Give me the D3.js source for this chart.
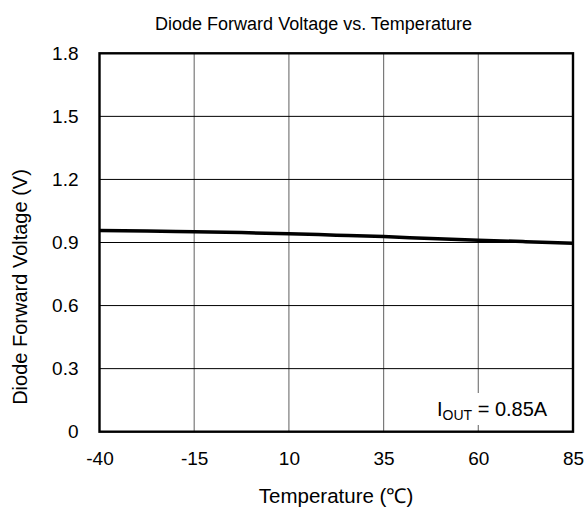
<!DOCTYPE html>
<html>
<head>
<meta charset="utf-8">
<script src="https://cdn.jsdelivr.net/npm/d3@7"></script>
<style>
  body { margin: 0; background: #fff; }
  svg { font-family: Arial, "Liberation Sans", sans-serif; }
</style>
</head>
<body>
<svg id="chart" width="586" height="509"></svg>
<script>
// data
const temps = [-40, -27.5, -15, -2.5, 10, 22.5, 35, 47.5, 60, 72.5, 85]
const vf = [0.957, 0.955, 0.951, 0.947, 0.942, 0.935, 0.928, 0.919, 0.911, 0.904, 0.897]
const xTicks = [-40, -15, 10, 35, 60, 85]
const yTicks = [0, 0.3, 0.6, 0.9, 1.2, 1.5, 1.8]

const svg = d3.select('#chart')

const plotLeft = 99.5, plotRight = 573, plotTop = 53.3, plotBottom = 431.7

const x = d3.scaleLinear().domain([-40, 85]).range([plotLeft, plotRight])
const y = d3.scaleLinear().domain([0, 1.8]).range([plotBottom, plotTop])

// vertical grid (gray)
svg.append('g')
  .selectAll('line')
  .data(xTicks.slice(1, -1))
  .join('line')
  .attr('x1', d => x(d)).attr('x2', d => x(d))
  .attr('y1', plotTop).attr('y2', plotBottom)
  .attr('stroke', '#7a7a7a').attr('stroke-width', 1.2)

// horizontal grid (black)
svg.append('g')
  .selectAll('line')
  .data(yTicks.slice(1, -1))
  .join('line')
  .attr('x1', plotLeft).attr('x2', plotRight)
  .attr('y1', d => y(d)).attr('y2', d => y(d))
  .attr('stroke', '#000').attr('stroke-width', 1)

// axes: labels only (plain hyphen for negatives, like the original)
const xAxis = svg.append('g')
  .attr('transform', `translate(0,${plotBottom})`)
  .call(d3.axisBottom(x).tickValues(xTicks).tickSize(0).tickPadding(20).tickFormat(d => String(d)))
xAxis.select('.domain').remove()
xAxis.selectAll('text').attr('font-size', 19).attr('fill', '#000').attr('font-family', 'Arial, "Liberation Sans", sans-serif')

const yAxis = svg.append('g')
  .attr('transform', `translate(${plotLeft},0)`)
  .call(d3.axisLeft(y).tickValues(yTicks).tickSize(0).tickPadding(21)
    .tickFormat(d => d === 0 ? '0' : d3.format('.1f')(d)))
yAxis.select('.domain').remove()
yAxis.selectAll('text').attr('font-size', 19).attr('fill', '#000').attr('font-family', 'Arial, "Liberation Sans", sans-serif')

// curve
const line = d3.line()
  .x((d, i) => x(temps[i]))
  .y(d => y(d))
  .curve(d3.curveMonotoneX)

svg.append('path')
  .datum(vf)
  .attr('d', line)
  .attr('fill', 'none')
  .attr('stroke', '#000')
  .attr('stroke-width', 3.5)

// annotation with white box behind
const ann = svg.append('g')
ann.append('rect')
  .attr('x', 432).attr('y', 393).attr('width', 128).attr('height', 32)
  .attr('fill', '#fff')
const annText = ann.append('text')
  .attr('x', 437).attr('y', 416)
  .attr('font-size', 20)
annText.append('tspan').text('I')
annText.append('tspan').text('OUT').attr('font-size', 14).attr('dy', 4)
annText.append('tspan').text(' = 0.85A').attr('dy', -4)

// frame
svg.append('rect')
  .attr('x', plotLeft).attr('y', plotTop)
  .attr('width', plotRight - plotLeft).attr('height', plotBottom - plotTop)
  .attr('fill', 'none').attr('stroke', '#000').attr('stroke-width', 2.4)

// title
svg.append('text')
  .attr('x', 313.5).attr('y', 30)
  .attr('text-anchor', 'middle')
  .attr('font-size', 18)
  .text('Diode Forward Voltage vs. Temperature')

// axis titles
svg.append('text')
  .attr('x', 336).attr('y', 503)
  .attr('text-anchor', 'middle')
  .attr('font-size', 20.5)
  .text('Temperature (℃)')

svg.append('text')
  .attr('transform', 'translate(27,287) rotate(-90)')
  .attr('text-anchor', 'middle')
  .attr('font-size', 20)
  .text('Diode Forward Voltage (V)')
</script>
</body>
</html>
